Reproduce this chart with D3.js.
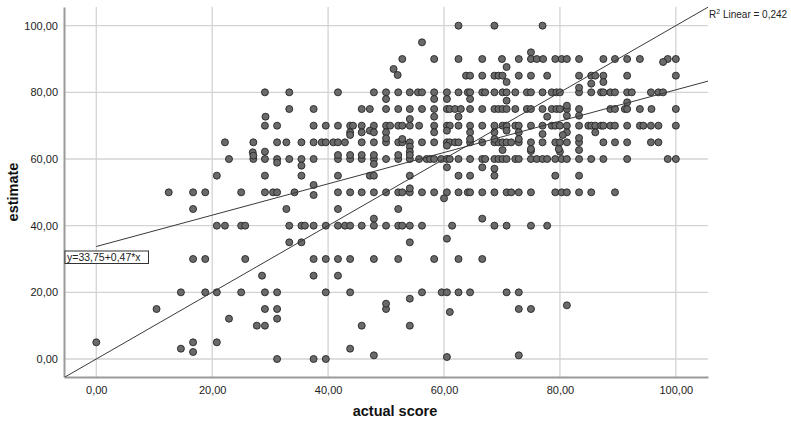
<!DOCTYPE html>
<html>
<head>
<meta charset="utf-8">
<script src="https://cdn.jsdelivr.net/npm/d3@7"></script>
<style>
  html, body { margin: 0; padding: 0; background: #fff; }
  svg { display: block; font-family: "Liberation Sans", Arial, sans-serif; }
</style>
</head>
<body>
<svg id="chart" width="791" height="421"></svg>
<script>
// ---- data ----
const xTicks = [0, 20, 40, 60, 80, 100];
const yTicks = [0, 20, 40, 60, 80, 100];
const xTitle = "actual score";
const yTitle = "estimate";
const fitIntercept = 33.75;
const fitSlope = 0.47;
const fitStart = 0;
const fitLabel = "y=33,75+0,47*x";
const r2Label = "0,242";

// rows of points sharing one estimate value: [estimate, actual scores]
const rows = [
  [100, [62.5, 68.7, 77.0]],
  [95, [56.2]],
  [92, [75.0]],
  [90, [52.8, 58.3, 62.5, 66.6, 70.0, 72.9, 75.0, 76.0, 77.1, 79.2, 80.3, 81.2, 83.3, 87.5, 89.5, 91.6, 93.8, 98.6, 100]],
  [85, [63.8, 64.5, 66.6, 68.7, 69.4, 70.1, 72.9, 75.0, 77.8, 83.3, 85.4, 86.1, 87.5, 91.6, 100]],
  [80, [29.1, 33.3, 41.7, 47.9, 50.0, 52.1, 54.1, 55.5, 56.2, 58.3, 60.5, 62.5, 64.1, 64.5, 66.6, 67.1, 68.7, 70.1, 70.8, 72.3, 74.3, 75.0, 77.0, 78.6, 79.4, 80.0, 83.3, 85.4, 87.1, 87.5, 88.7, 89.5, 91.6, 92.4, 95.7, 97.0, 97.8]],
  [75, [33.3, 37.5, 45.8, 47.2, 50.0, 52.1, 54.1, 56.2, 58.3, 60.5, 61.0, 61.9, 62.9, 64.5, 66.6, 68.7, 69.4, 70.1, 70.8, 72.3, 74.3, 75.0, 77.0, 78.6, 79.4, 80.0, 81.2, 83.3, 88.7, 89.5, 91.2, 91.6, 93.8, 95.8, 100]],
  [70, [29.1, 31.2, 37.5, 39.6, 41.7, 43.8, 44.3, 45.8, 47.9, 50.0, 50.7, 52.1, 52.8, 54.1, 55.7, 58.3, 60.5, 61.0, 62.5, 64.5, 66.6, 68.7, 70.1, 70.8, 72.3, 72.9, 75.0, 77.0, 78.6, 79.2, 80.0, 81.2, 83.3, 84.9, 85.4, 86.1, 87.1, 87.5, 88.7, 89.5, 91.6, 93.8, 94.4, 95.7, 97.0, 100]],
  [65, [22.2, 27.1, 31.2, 32.8, 35.4, 37.5, 38.9, 39.6, 40.9, 41.7, 42.9, 45.8, 47.9, 50.0, 52.1, 52.8, 54.1, 56.2, 58.3, 60.5, 61.0, 61.9, 62.5, 64.5, 66.6, 68.7, 69.4, 70.1, 70.8, 71.6, 72.9, 75.0, 77.0, 79.2, 80.0, 81.2, 83.3, 87.5, 89.5, 91.6, 95.7, 97.0]],
  [60, [22.9, 27.1, 29.1, 31.2, 33.3, 35.4, 37.5, 41.7, 43.8, 45.8, 47.9, 50.0, 52.1, 54.1, 55.7, 57.0, 57.6, 58.3, 59.5, 60.5, 61.0, 62.5, 64.5, 66.6, 67.1, 68.7, 69.4, 70.1, 70.8, 72.3, 72.9, 75.0, 76.0, 77.0, 77.8, 79.2, 80.3, 81.2, 83.3, 85.4, 87.5, 91.6, 98.6, 100]],
  [55, [20.8, 29.1, 35.4, 41.7, 47.2, 47.9, 54.1, 62.5, 64.5, 68.7, 79.2, 83.3]],
  [50, [12.5, 16.7, 18.8, 25.0, 29.1, 30.5, 31.2, 34.2, 41.7, 43.8, 45.8, 47.9, 50.0, 52.1, 52.8, 54.1, 56.2, 58.3, 60.5, 62.5, 64.1, 64.5, 66.6, 68.7, 70.8, 71.6, 72.9, 75.0, 79.2, 80.3, 81.2, 83.3, 85.4, 89.5]],
  [45, [16.7, 32.8, 41.7, 52.1]],
  [40, [20.8, 22.2, 25.0, 25.7, 33.3, 35.4, 36.0, 37.5, 39.6, 41.7, 42.9, 43.8, 45.8, 47.9, 50.0, 52.1, 52.8, 54.1, 56.2, 61.4, 68.7, 70.8, 75.0, 77.8]],
  [35, [33.3, 35.4, 54.1]],
  [30, [16.7, 18.8, 25.7, 37.5, 39.6, 41.7, 43.8, 47.9, 52.1, 58.3, 62.5, 66.6]],
  [25, [28.6, 37.5, 41.7]],
  [20, [14.6, 18.8, 20.8, 25.0, 29.1, 31.2, 39.6, 43.8, 56.2, 59.6, 60.5, 62.5, 64.5, 70.8, 72.9]],
  [15, [10.4, 29.1, 31.2, 50.0, 72.9, 75.0]],
  [10, [27.7, 29.1, 45.8, 54.1]],
  [5, [0, 16.7, 20.8]],
  [0, [31.2, 37.5, 39.6]]
];

// points whose estimate is not on a multiple of five: [actual, estimate]
const otherPoints = [
  [97.8, 89.1], [70.8, 87.6], [51.3, 87.0], [52.0, 85.2],
  [70.8, 83.1], [85.4, 82.6], [87.5, 83.1],
  [50.0, 78.0], [58.3, 78.0], [60.5, 78.0], [64.5, 78.0], [70.8, 77.5], [83.3, 81.4], [81.2, 76.0], [91.6, 77.0],
  [29.2, 72.7], [54.1, 72.0], [58.3, 72.7], [62.5, 72.7], [77.8, 72.7], [81.2, 73.0], [83.3, 73.0],
  [43.8, 68.0], [45.8, 68.0], [47.2, 68.5], [47.9, 68.0], [50.0, 68.0], [43.8, 67.2],
  [58.3, 68.0], [60.5, 68.5], [64.5, 68.0], [68.7, 68.0], [70.8, 68.5], [72.9, 68.0], [77.0, 67.5],
  [81.2, 68.0], [86.1, 68.0], [80.5, 67.2],
  [50.0, 66.2], [52.8, 66.0], [54.1, 63.7], [54.1, 62.2], [60.5, 64.0], [64.5, 66.0], [68.7, 66.0], [72.9, 66.0],
  [70.1, 62.7], [75.0, 62.4], [83.3, 66.3], [83.3, 62.7], [80.0, 62.2], [29.1, 62.2], [27.0, 62.0],
  [27.1, 61.0], [31.2, 58.9], [35.4, 58.0], [41.7, 61.2], [43.8, 61.2], [45.8, 61.2], [47.9, 61.2], [52.1, 61.2], [54.1, 61.2],
  [47.9, 58.5], [60.5, 57.5], [66.6, 57.5], [75.0, 63.0], [79.8, 63.0], [68.7, 57.1],
  [37.5, 52.2], [37.5, 49.2], [54.1, 51.2], [60.0, 48.2],
  [47.9, 42.1], [66.6, 42.1], [60.5, 36.1],
  [54.1, 18.1], [50.0, 16.6], [81.2, 16.1],
  [61.0, 14.1], [31.2, 12.1], [22.9, 12.1],
  [14.6, 3.1], [16.7, 2.1], [43.8, 3.1],
  [47.9, 1.1], [72.9, 1.1], [60.5, 0.6]
];

// ---- drawing ----
const svg = d3.select("#chart");
const plotLeft = 64, plotRight = 708, plotTop = 7, plotBottom = 377;

const x = d3.scaleLinear().domain([-5.57, 105.55]).range([plotLeft, plotRight]);
const y = d3.scaleLinear().domain([-5.4, 105.6]).range([plotBottom, plotTop]);

const points = [];
rows.forEach(([est, acts]) => acts.forEach(a => points.push([a, est])));
otherPoints.forEach(p => points.push(p));

svg.append("defs").append("clipPath").attr("id", "plotclip")
  .append("rect").attr("x", plotLeft).attr("y", plotTop)
  .attr("width", plotRight - plotLeft).attr("height", plotBottom - plotTop);

// gridlines
const grid = svg.append("g");
grid.selectAll("line.gx").data(xTicks).join("line").attr("class", "gx")
  .attr("x1", d => x(d)).attr("x2", d => x(d))
  .attr("y1", plotTop).attr("y2", plotBottom)
  .attr("stroke", "#d3d3d3").attr("stroke-width", 1.3);
grid.selectAll("line.gy").data(yTicks).join("line").attr("class", "gy")
  .attr("x1", plotLeft).attr("x2", plotRight)
  .attr("y1", d => y(d)).attr("y2", d => y(d))
  .attr("stroke", "#d3d3d3").attr("stroke-width", 1.3);

// axes
const fmt = d => d3.format(".2f")(d).replace(".", ",");
const xAxis = d3.axisBottom(x).tickValues(xTicks).tickSize(0).tickPadding(9).tickFormat(fmt);
const yAxis = d3.axisLeft(y).tickValues(yTicks).tickSize(0).tickPadding(6).tickFormat(fmt);

const gx = svg.append("g").attr("transform", `translate(0,${plotBottom})`).call(xAxis);
gx.select(".domain").attr("stroke", "#9a9a9a").attr("stroke-width", 2);
gx.selectAll("text").attr("font-size", 11).attr("fill", "#222").attr("font-family", "Liberation Sans, Arial, sans-serif");

const gy = svg.append("g").attr("transform", `translate(${plotLeft},0)`).call(yAxis);
gy.select(".domain").attr("stroke", "#9a9a9a").attr("stroke-width", 2);
gy.selectAll("text").attr("font-size", 11).attr("fill", "#222").attr("font-family", "Liberation Sans, Arial, sans-serif");

// points
svg.append("g").attr("clip-path", "url(#plotclip)")
  .selectAll("circle").data(points).join("circle")
  .attr("cx", d => x(d[0])).attr("cy", d => y(d[1]))
  .attr("r", 3.5)
  .attr("fill", "#6a6a6a").attr("stroke", "#252525").attr("stroke-width", 0.9);

// lines
const xd = x.domain();
const lines = svg.append("g").attr("clip-path", "url(#plotclip)");
lines.append("line")
  .attr("x1", x(xd[0])).attr("y1", y(xd[0]))
  .attr("x2", x(xd[1])).attr("y2", y(xd[1]))
  .attr("stroke", "#3a3a3a").attr("stroke-width", 1);
lines.append("line")
  .attr("x1", x(fitStart)).attr("y1", y(fitIntercept + fitSlope * fitStart))
  .attr("x2", x(xd[1])).attr("y2", y(fitIntercept + fitSlope * xd[1]))
  .attr("stroke", "#3a3a3a").attr("stroke-width", 1);

// fit equation box
const eq = svg.append("g").attr("transform", `translate(${plotLeft + 1},251)`);
eq.append("rect").attr("x", 0).attr("y", 0).attr("width", 83.5).attr("height", 12.5)
  .attr("fill", "#fff").attr("stroke", "#333").attr("stroke-width", 1);
eq.append("text").attr("x", 2).attr("y", 10.2).attr("font-size", 10.5).attr("fill", "#222")
  .text(fitLabel);

// R2 label
const r2 = svg.append("text").attr("x", 709).attr("y", 18).attr("font-size", 10).attr("fill", "#222");
r2.append("tspan").text("R");
r2.append("tspan").attr("dy", -4).attr("font-size", 7).text("2");
r2.append("tspan").attr("dy", 4).text(" Linear = " + r2Label);

// axis titles
svg.append("text").attr("x", (plotLeft + plotRight) / 2 + 9).attr("y", 416)
  .attr("text-anchor", "middle").attr("font-size", 14.5).attr("font-weight", "bold").attr("fill", "#111")
  .text(xTitle);
svg.append("text").attr("transform", "translate(18,192) rotate(-90)")
  .attr("text-anchor", "middle").attr("font-size", 14.5).attr("font-weight", "bold").attr("fill", "#111")
  .text(yTitle);
</script>
</body>
</html>
